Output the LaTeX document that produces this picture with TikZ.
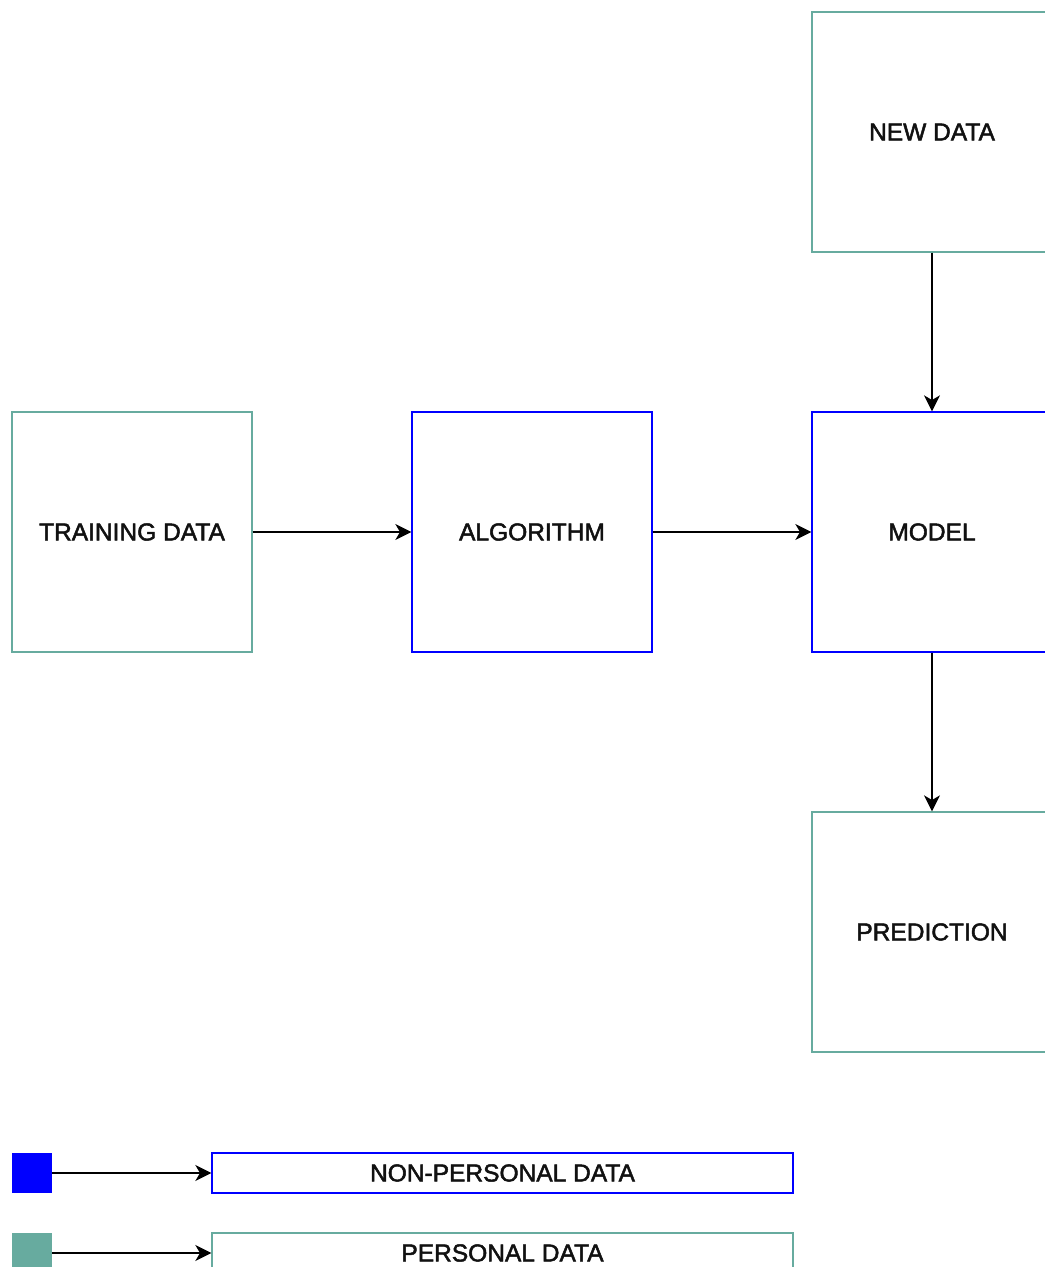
\documentclass[tikz,border=0pt]{standalone}
\usepackage{fontspec}
\setmainfont{Liberation Sans}
\newfontfamily\lblfont{Liberation Sans}[FakeBold=2]
\usetikzlibrary{arrows.meta}
\definecolor{teal1}{HTML}{67AB9F}
\definecolor{blue1}{HTML}{0000FF}
\definecolor{txt}{HTML}{111111}
\begin{document}
\begin{tikzpicture}[x=0.75pt,y=-0.75pt,
  box/.style={draw, line width=1pt, fill=white, minimum width=180pt, minimum height=180pt, inner sep=0pt, font=\lblfont\fontsize{18.4}{21}\selectfont, text=txt},
  pbox/.style={box, draw=teal1},
  nbox/.style={box, draw=blue1},
  legbox/.style={draw, line width=1pt, minimum width=435.75pt, minimum height=30pt, inner sep=0pt, font=\lblfont\fontsize{18.4}{21}\selectfont, text=txt},
  sq/.style={minimum width=30pt, minimum height=30pt, inner sep=0pt},
  arr/.style={line width=1pt, -{Stealth[length=12pt,width=12pt,inset=3.5pt]}}]
\useasboundingbox (0,0) rectangle (1045,1267);
\fill[white] (0,0) rectangle (1045,1267);
\node[pbox] (train) at (132,532) {TRAINING DATA};
\node[nbox] (algo) at (532,532) {ALGORITHM};
\node[nbox] (model) at (932,532) {MODEL};
\node[pbox] (new) at (932,132) {NEW DATA};
\node[pbox] (pred) at (932,932) {PREDICTION};
\draw[arr] (train) -- (algo);
\draw[arr] (algo) -- (model);
\draw[arr] (new) -- (model);
\draw[arr] (model) -- (pred);
\node[sq, fill=blue1] (sqb) at (32,1173) {};
\node[sq, fill=teal1] (sqt) at (32,1253) {};
\node[legbox, draw=blue1] (lnp) at (502.5,1173) {NON-PERSONAL DATA};
\node[legbox, draw=teal1] (lp) at (502.5,1253) {PERSONAL DATA};
\draw[arr] (sqb) -- (lnp);
\draw[arr] (sqt) -- (lp);
\end{tikzpicture}
\end{document}
